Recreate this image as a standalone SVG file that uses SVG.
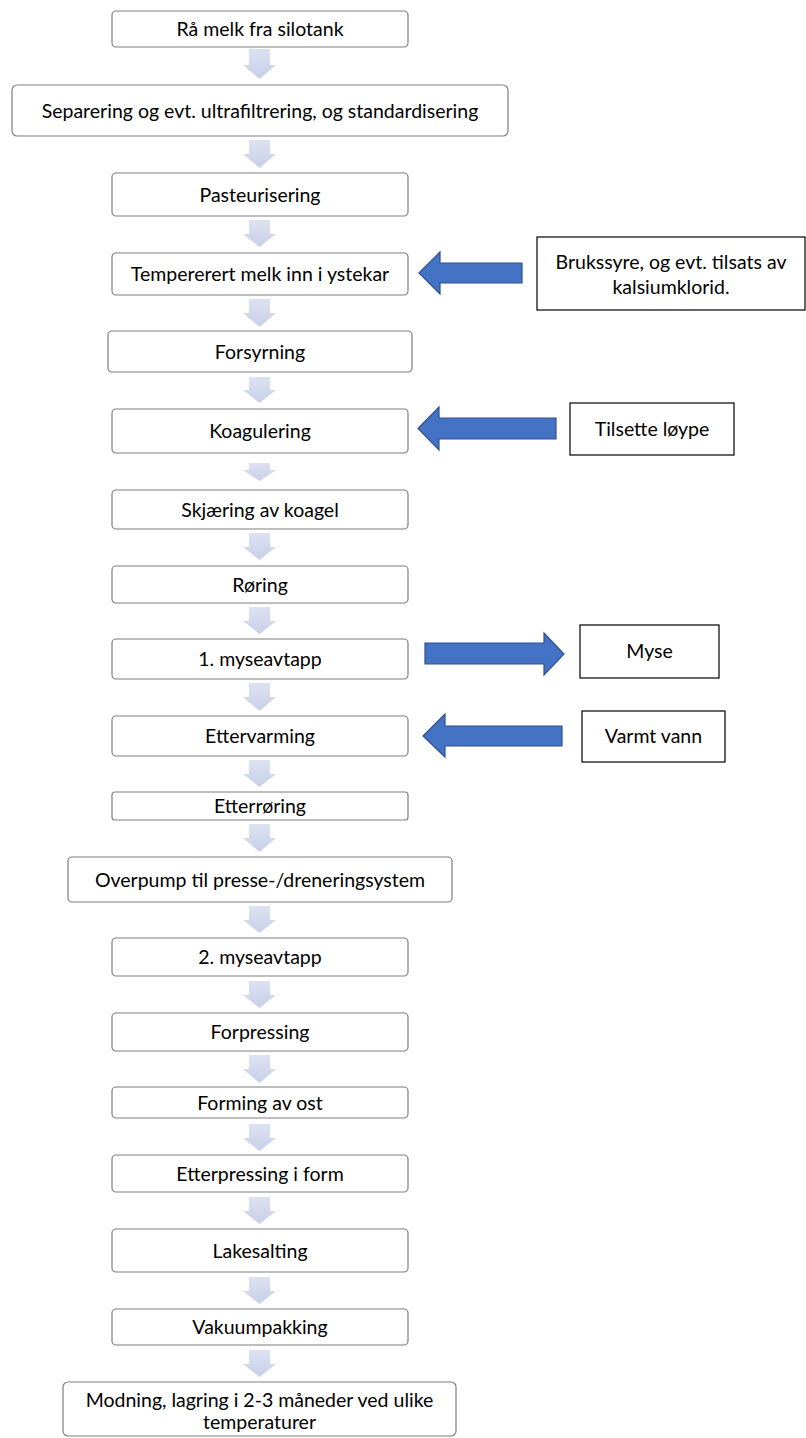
<svg xmlns="http://www.w3.org/2000/svg" width="806" height="1438" viewBox="0 0 806 1438">
<style>
.box{fill:#fff;stroke:#7f7f7f;stroke-width:1.2}
.side{fill:#fff;stroke:#000;stroke-width:1.2}
.t{font-family:Lato,"Liberation Sans",sans-serif;font-size:19.5px;fill:#000;text-anchor:middle}
.ga{fill:url(#gg)}
.ba{fill:#4472c4;stroke:#2f528f;stroke-width:1.2}
</style>
<defs>
<linearGradient id="gg" x1="0" y1="0" x2="0" y2="1">
<stop offset="0" stop-color="#dde2f1"/>
<stop offset="1" stop-color="#c8cfe8"/>
</linearGradient>
</defs>
<rect width="806" height="1438" fill="#fff"/>
<g id="connectors">
<polygon class="ga" points="249,49 270,49 270,65 276,65 259.5,79 243,65 249,65"/>
<polygon class="ga" points="249,140 270,140 270,154 276,154 259.5,168 243,154 249,154"/>
<polygon class="ga" points="249,220 270,220 270,234 276,234 259.5,247 243,234 249,234"/>
<polygon class="ga" points="249,299 270,299 270,313 276,313 259.5,327 243,313 249,313"/>
<polygon class="ga" points="249,377 270,377 270,390 276,390 259.5,403 243,390 249,390"/>
<polygon class="ga" points="249,463 270,463 270,470 276,470 259.5,481 243,470 249,470"/>
<polygon class="ga" points="249,533 270,533 270,547 276,547 259.5,560 243,547 249,547"/>
<polygon class="ga" points="249,607 270,607 270,621 276,621 259.5,634 243,621 249,621"/>
<polygon class="ga" points="249,683 270,683 270,697 276,697 259.5,711 243,697 249,697"/>
<polygon class="ga" points="249,760 270,760 270,774 276,774 259.5,787 243,774 249,774"/>
<polygon class="ga" points="249,824 270,824 270,838 276,838 259.5,852 243,838 249,838"/>
<polygon class="ga" points="249,906 270,906 270,920 276,920 259.5,933 243,920 249,920"/>
<polygon class="ga" points="249,981 270,981 270,995 276,995 259.5,1008 243,995 249,995"/>
<polygon class="ga" points="249,1055 270,1055 270,1069 276,1069 259.5,1083 243,1069 249,1069"/>
<polygon class="ga" points="249,1124 270,1124 270,1138 276,1138 259.5,1151 243,1138 249,1138"/>
<polygon class="ga" points="249,1197 270,1197 270,1211 276,1211 259.5,1224 243,1211 249,1211"/>
<polygon class="ga" points="249,1277 270,1277 270,1291 276,1291 259.5,1304 243,1291 249,1291"/>
<polygon class="ga" points="249,1350 270,1350 270,1364 276,1364 259.5,1377 243,1364 249,1364"/>
<polygon class="ba" points="419,273 440,252 440,263 522,263 522,283 440,283 440,294"/>
<polygon class="ba" points="418,428.5 439,407 439,418 556,418 556,439 439,439 439,450"/>
<polygon class="ba" points="425,643 544,643 544,633 564,654 544,675 544,664 425,664"/>
<polygon class="ba" points="423,736 445,714 445,726 562,726 562,746 445,746 445,757"/>
</g>
<g id="n1"><rect class="box" x="112" y="11" width="296" height="36" rx="4"/><text class="t" x="260" y="36">Rå melk fra silotank</text></g>
<g id="n2"><rect class="box" x="12" y="85" width="496" height="51" rx="5"/><text class="t" x="260" y="117.5">Separering og evt. ultrafiltrering, og standardisering</text></g>
<g id="n3"><rect class="box" x="112" y="173" width="296" height="43" rx="4"/><text class="t" x="260" y="201.5">Pasteurisering</text></g>
<g id="n4"><rect class="box" x="112" y="253" width="296" height="42" rx="4"/><text class="t" x="260" y="281">Tempererert melk inn i ystekar</text></g>
<g id="n5"><rect class="box" x="108" y="331" width="304" height="41" rx="4"/><text class="t" x="260" y="358.5">Forsyrning</text></g>
<g id="n6"><rect class="box" x="112" y="409" width="296" height="44" rx="4"/><text class="t" x="260" y="438">Koagulering</text></g>
<g id="n7"><rect class="box" x="112" y="490" width="296" height="39" rx="4"/><text class="t" x="260" y="516.5">Skjæring av koagel</text></g>
<g id="n8"><rect class="box" x="112" y="566" width="296" height="37" rx="4"/><text class="t" x="260" y="591.5">Røring</text></g>
<g id="n9"><rect class="box" x="112" y="639" width="296" height="40" rx="4"/><text class="t" x="260" y="666">1. myseavtapp</text></g>
<g id="n10"><rect class="box" x="112" y="716" width="296" height="40" rx="4"/><text class="t" x="260" y="743">Ettervarming</text></g>
<g id="n11"><rect class="box" x="112" y="792" width="296" height="28" rx="3"/><text class="t" x="260" y="813">Etterrøring</text></g>
<g id="n12"><rect class="box" x="68" y="857" width="384" height="45" rx="4"/><text class="t" x="260" y="886.5">Overpump til presse-/dreneringsystem</text></g>
<g id="n13"><rect class="box" x="112" y="938" width="296" height="38" rx="4"/><text class="t" x="260" y="964">2. myseavtapp</text></g>
<g id="n14"><rect class="box" x="112" y="1013" width="296" height="38" rx="4"/><text class="t" x="260" y="1039">Forpressing</text></g>
<g id="n15"><rect class="box" x="112" y="1087" width="296" height="31" rx="4"/><text class="t" x="260" y="1109.5">Forming av ost</text></g>
<g id="n16"><rect class="box" x="112" y="1155" width="296" height="37" rx="4"/><text class="t" x="260" y="1180.5">Etterpressing i form</text></g>
<g id="n17"><rect class="box" x="112" y="1229" width="296" height="43" rx="4"/><text class="t" x="260" y="1257.5">Lakesalting</text></g>
<g id="n18"><rect class="box" x="112" y="1309" width="296" height="36" rx="4"/><text class="t" x="260" y="1334">Vakuumpakking</text></g>
<g id="n19"><rect class="box" x="63" y="1382" width="393" height="54" rx="5"/><text class="t" x="259.5" y="1407">Modning, lagring i 2-3 måneder ved ulike</text><text class="t" x="259.5" y="1429">temperaturer</text></g>
<g id="s1"><rect class="side" x="537" y="237" width="268" height="73"/><text class="t" x="671" y="269">Brukssyre, og evt. tilsats av</text><text class="t" x="671" y="294">kalsiumklorid.</text></g>
<g id="s2"><rect class="side" x="570" y="403" width="164" height="52"/><text class="t" x="652" y="436">Tilsette løype</text></g>
<g id="s3"><rect class="side" x="580" y="625" width="139" height="53"/><text class="t" x="649.5" y="658">Myse</text></g>
<g id="s4"><rect class="side" x="582" y="711" width="143" height="51"/><text class="t" x="653.5" y="743">Varmt vann</text></g>
</svg>
